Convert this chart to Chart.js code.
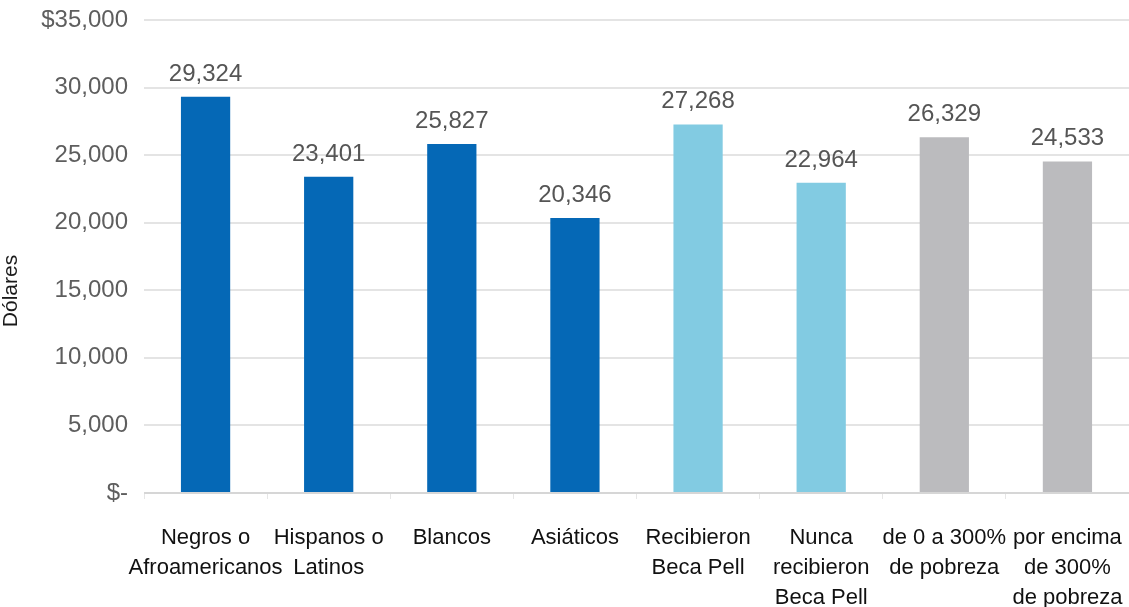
<!DOCTYPE html>
<html>
<head>
<meta charset="utf-8">
<script src="https://cdn.jsdelivr.net/npm/chart.js@4.4.1/dist/chart.umd.min.js"></script>
<style>
  html, body { margin: 0; padding: 0; background: #ffffff; }
  #wrap { width: 1129px; height: 607px; position: relative; }
</style>
</head>
<body>
<div id="wrap"><canvas id="c"></canvas></div>
<script>
// Deuda estudiantil media por grupo (dólares)
const categories = [
  ['Negros o', 'Afroamericanos'],
  ['Hispanos o', 'Latinos'],
  'Blancos',
  'Asiáticos',
  ['Recibieron', 'Beca Pell'],
  ['Nunca', 'recibieron', 'Beca Pell'],
  ['de 0 a 300%', 'de pobreza'],
  ['por encima', 'de 300%', 'de pobreza']
];
const debtValues = [29324, 23401, 25827, 20346, 27268, 22964, 26329, 24533];
const groupKind = ['raza', 'raza', 'raza', 'raza', 'pell', 'pell', 'ingreso', 'ingreso'];
const kindColors = { raza: '#0568b6', pell: '#82cbe2', ingreso: '#bbbbbe' };
const yTickValues = [0, 5000, 10000, 15000, 20000, 25000, 30000, 35000];
const yAxisTitle = 'Dólares';

const FONT = '"Liberation Sans", Arial, Helvetica, sans-serif';

function fmt(v) {
  return v.toLocaleString('en-US');
}

// Etiquetas de valor encima de cada barra y título vertical del eje Y
const annotations = {
  id: 'annotations',
  afterDatasetsDraw(chart) {
    const ctx = chart.ctx;
    const meta = chart.getDatasetMeta(0);
    ctx.save();
    ctx.font = '24px ' + FONT;
    ctx.fillStyle = '#555555';
    ctx.textAlign = 'center';
    ctx.textBaseline = 'alphabetic';
    meta.data.forEach((bar, i) => {
      ctx.fillText(fmt(chart.data.datasets[0].data[i]), bar.x, bar.y - 16);
    });
    ctx.restore();

    ctx.save();
    ctx.font = '21px ' + FONT;
    ctx.fillStyle = '#1a1a1a';
    ctx.textAlign = 'center';
    ctx.textBaseline = 'middle';
    ctx.translate(11, 291);
    ctx.rotate(-Math.PI / 2);
    ctx.fillText(yAxisTitle, 0, 0);
    ctx.restore();
  }
};

new Chart(document.getElementById('c'), {
  type: 'bar',
  data: {
    labels: categories,
    datasets: [{
      data: debtValues,
      backgroundColor: groupKind.map(k => kindColors[k]),
      borderWidth: 0,
      barPercentage: 0.8,
      categoryPercentage: 0.5
    }]
  },
  options: {
    responsive: true,
    maintainAspectRatio: false,
    animation: false,
    layout: { padding: { top: 20, right: 0, bottom: 0, left: 0 } },
    plugins: {
      legend: { display: false },
      tooltip: { enabled: false }
    },
    scales: {
      x: {
        offset: true,
        grid: {
          display: true,
          drawOnChartArea: false,
          drawTicks: true,
          tickLength: 6,
          color: '#e6e6e6',
          offset: true
        },
        border: { display: false },
        ticks: {
          color: '#111111',
          font: { family: FONT, size: 22, lineHeight: 1.36 },
          padding: 24,
          maxRotation: 0,
          autoSkip: false
        },
        afterFit(scale) {
          scale.height = 114;
          scale.paddingLeft = 0;
          scale.paddingRight = 0;
        }
      },
      y: {
        min: 0,
        max: 35000,
        afterBuildTicks(scale) {
          scale.ticks = yTickValues.map(v => ({ value: v }));
        },
        grid: {
          color: (c) => c.tick && c.tick.value === 0 ? '#d6d6d6' : '#e4e4e4',
          lineWidth: 2,
          drawTicks: false
        },
        border: { display: false },
        ticks: {
          color: '#5e5e5e',
          font: { family: FONT, size: 24 },
          padding: 16,
          callback: (v) => v === 0 ? '$-' : (v === 35000 ? '$' + fmt(v) : fmt(v))
        },
        afterFit(scale) {
          scale.width = 144;
          scale.paddingTop = 0;
          scale.paddingBottom = 0;
        }
      }
    }
  },
  plugins: [annotations]
});
</script>
</body>
</html>
